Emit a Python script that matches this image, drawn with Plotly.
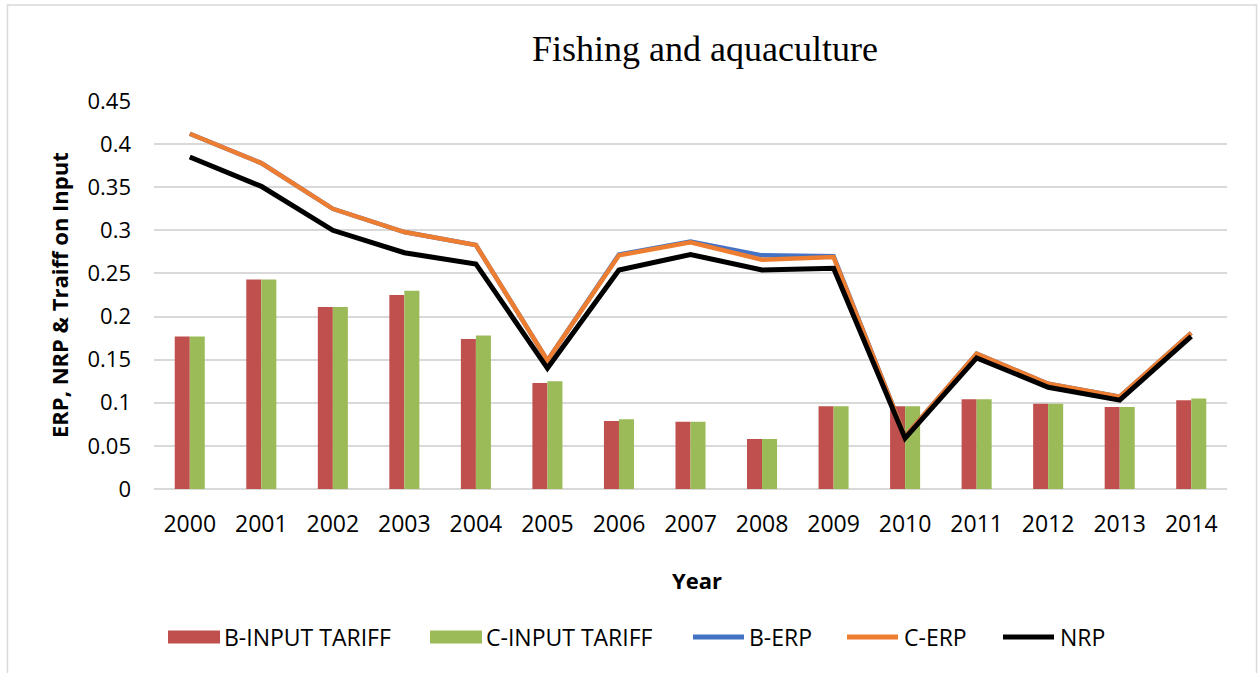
import plotly.graph_objects as go

# ---- data -----------------------------------------------------------------
years = ["2000", "2001", "2002", "2003", "2004", "2005", "2006", "2007",
         "2008", "2009", "2010", "2011", "2012", "2013", "2014"]

b_input_tariff = [0.177, 0.243, 0.211, 0.225, 0.174, 0.123, 0.079, 0.078,
                  0.058, 0.096, 0.096, 0.104, 0.099, 0.095, 0.103]
c_input_tariff = [0.177, 0.243, 0.211, 0.230, 0.178, 0.125, 0.081, 0.078,
                  0.058, 0.096, 0.096, 0.104, 0.099, 0.095, 0.105]
b_erp = [0.412, 0.378, 0.325, 0.298, 0.283, 0.149, 0.272, 0.287,
         0.271, 0.270, 0.061, 0.157, 0.122, 0.107, 0.181]
c_erp = [0.412, 0.378, 0.325, 0.298, 0.283, 0.149, 0.271, 0.286,
         0.266, 0.269, 0.061, 0.157, 0.122, 0.107, 0.181]
nrp = [0.385, 0.351, 0.300, 0.274, 0.261, 0.140, 0.254, 0.272,
       0.254, 0.256, 0.059, 0.152, 0.118, 0.103, 0.177]

y_ticks = [0, 0.05, 0.1, 0.15, 0.2, 0.25, 0.3, 0.35, 0.4, 0.45]
y_tick_text = ["0", "0.05", "0.1", "0.15", "0.2", "0.25", "0.3", "0.35", "0.4", "0.45"]

series_names = ["B-INPUT TARIFF", "C-INPUT TARIFF", "B-ERP", "C-ERP", "NRP"]

# ---- style ----------------------------------------------------------------
RED, GREEN, BLUE, ORANGE, BLACK = "#c0504d", "#9bbb59", "#4472c4", "#ed7d31", "#000000"
GRID = "#d9d9d9"
SANS = "Open Sans"
SERIF = "Liberation Serif, Times New Roman, serif"

W, H = 1259, 673
ML, MR, MT, MB = 154, 32, 101, 184
PW, PH = W - ML - MR, H - MT - MB


def px_x(px):
    return (px - ML) / PW


def px_y(py):
    return (H - MB - py) / PH


fig = go.Figure()
fig.add_trace(go.Bar(x=years, y=b_input_tariff, name=series_names[0],
                     marker=dict(color=RED, line=dict(width=0))))
fig.add_trace(go.Bar(x=years, y=c_input_tariff, name=series_names[1],
                     marker=dict(color=GREEN, line=dict(width=0))))
fig.add_trace(go.Scatter(x=years, y=b_erp, name=series_names[2], mode="lines",
                         line=dict(color=BLUE, width=4.5)))
fig.add_trace(go.Scatter(x=years, y=c_erp, name=series_names[3], mode="lines",
                         line=dict(color=ORANGE, width=4.5)))
fig.add_trace(go.Scatter(x=years, y=nrp, name=series_names[4], mode="lines",
                         line=dict(color=BLACK, width=5)))

shapes = []
annotations = []

# outer chart border
shapes.append(dict(type="rect", xref="paper", yref="paper",
                   x0=px_x(7.5), x1=px_x(1256.5), y0=px_y(720), y1=px_y(5),
                   line=dict(color=GRID, width=1.5), fillcolor="rgba(0,0,0,0)",
                   layer="below"))

# legend along the bottom
legend_y = 637
legend_items = [
    ("rect", RED, 168, 220, 222, series_names[0]),
    ("rect", GREEN, 430, 482, 484, series_names[1]),
    ("line", BLUE, 691, 746, 747, series_names[2]),
    ("line", ORANGE, 845, 900, 902, series_names[3]),
    ("line", BLACK, 1001, 1056, 1058, series_names[4]),
]
for kind, color, x0, x1, tx, label in legend_items:
    if kind == "rect":
        shapes.append(dict(type="rect", xref="paper", yref="paper",
                           x0=px_x(x0), x1=px_x(x1),
                           y0=px_y(legend_y + 6.5), y1=px_y(legend_y - 6.5),
                           line=dict(width=0), fillcolor=color))
    else:
        shapes.append(dict(type="line", xref="paper", yref="paper",
                           x0=px_x(x0 + 2), x1=px_x(x1 - 2),
                           y0=px_y(legend_y), y1=px_y(legend_y),
                           line=dict(color=color, width=5)))
    annotations.append(dict(text=label, xref="paper", yref="paper",
                            x=px_x(tx), y=px_y(legend_y), xanchor="left",
                            yanchor="middle", showarrow=False,
                            font=dict(family=SANS, size=23, color="#000")))

# chart title
annotations.append(dict(text="Fishing and aquaculture", xref="paper", yref="paper",
                        x=px_x(705), y=px_y(49), xanchor="center", yanchor="middle",
                        showarrow=False,
                        font=dict(family=SERIF, size=36, color="#000")))
# axis titles
annotations.append(dict(text="<b>ERP, NRP &amp; Traiff on Input</b>", xref="paper",
                        yref="paper", x=px_x(59), y=px_y(295), textangle=-90,
                        xanchor="center", yanchor="middle", showarrow=False,
                        font=dict(family=SANS, size=22, color="#000")))
annotations.append(dict(text="<b>Year</b>", xref="paper", yref="paper",
                        x=px_x(697), y=px_y(580), xanchor="center", yanchor="middle",
                        showarrow=False,
                        font=dict(family=SANS, size=22, color="#000")))

fig.update_layout(
    width=W, height=H, autosize=False,
    margin=dict(l=ML, r=MR, t=MT, b=MB, pad=0),
    paper_bgcolor="white", plot_bgcolor="white",
    barmode="group", bargap=0.58, bargroupgap=0,
    showlegend=False,
    shapes=shapes, annotations=annotations,
    xaxis=dict(type="category", showgrid=False, zeroline=False, showline=False,
               ticks="", ticklabelstandoff=19,
               tickfont=dict(family=SANS, size=23, color="#000")),
    yaxis=dict(range=[0, 0.45], tickvals=y_ticks, ticktext=y_tick_text,
               showgrid=True, gridcolor=GRID, gridwidth=1.5,
               zeroline=True, zerolinecolor=GRID, zerolinewidth=1.5,
               showline=False, ticks="", ticklabelstandoff=22,
               tickfont=dict(family=SANS, size=22, color="#000")),
    hovermode=False,
)

fig.write_html("out.html")
